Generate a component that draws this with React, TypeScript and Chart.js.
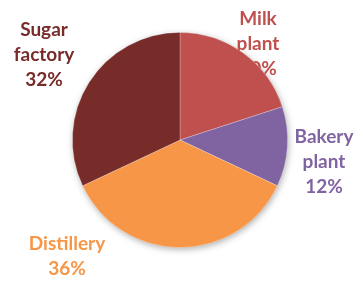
import React, { useEffect, useRef } from "react";
import { Chart, registerables } from "chart.js";

Chart.register(...registerables);

const categories = ["Milk plant", "Bakery plant", "Distillery", "Sugar factory"];
const values = [20, 12, 36, 32];
const colors = ["#C0504D", "#8064A2", "#F79646", "#772C2A"];
const labelLines = [["Milk", "plant", "20%"], ["Bakery", "plant", "12%"], ["Distillery", "36%"], ["Sugar", "factory", "32%"]];
const labelAnchors = [[258, 19], [324, 137], [67, 244], [44, 30]];

const labelsPlugin = {
  id: "behindLabels",
  beforeDatasetsDraw(chart: any) {
    const ctx = chart.ctx;
    const meta = chart.getDatasetMeta(0);
    const arc = meta.data[0];
    if (arc) {
      const { x, y, outerRadius } = arc.getProps(["x", "y", "outerRadius"], true);
      ctx.save();
      ctx.shadowColor = "rgba(0,0,0,0.35)";
      ctx.shadowBlur = 7;
      ctx.shadowOffsetX = 1;
      ctx.shadowOffsetY = 2;
      ctx.fillStyle = "#ffffff";
      ctx.beginPath();
      ctx.arc(x, y, outerRadius - 0.5, 0, Math.PI * 2);
      ctx.fill();
      ctx.restore();
    }
    ctx.save();
    ctx.font = "bold 19px Lato, 'Open Sans', sans-serif";
    ctx.textAlign = "center";
    ctx.textBaseline = "middle";
    labelLines.forEach((lines, i) => {
      ctx.fillStyle = colors[i];
      const [lx, ly] = labelAnchors[i];
      lines.forEach((t, j) => ctx.fillText(t, lx, ly + j * 25));
    });
    ctx.restore();
  },
};

export default function App() {
  const ref = useRef<HTMLCanvasElement>(null);
  useEffect(() => {
    document.body.style.margin = "0";
    const chart = new Chart(ref.current!, {
      type: "pie",
      data: {
        labels: categories,
        datasets: [
          {
            data: values,
            backgroundColor: colors,
            borderColor: "rgba(255,255,255,0.3)",
            borderWidth: 0.8,
          },
        ],
      },
      options: {
        responsive: false,
        animation: false,
        layout: { padding: { left: 72, right: 75, top: 32, bottom: 33 } },
        plugins: { legend: { display: false }, tooltip: { enabled: false } },
      },
      plugins: [labelsPlugin],
    });
    return () => chart.destroy();
  }, []);
  return (
    <div style={{ position: "absolute", left: 0, top: 0, width: 363, height: 281, background: "#fff" }}>
      <canvas ref={ref} width={363} height={281} />
    </div>
  );
}
